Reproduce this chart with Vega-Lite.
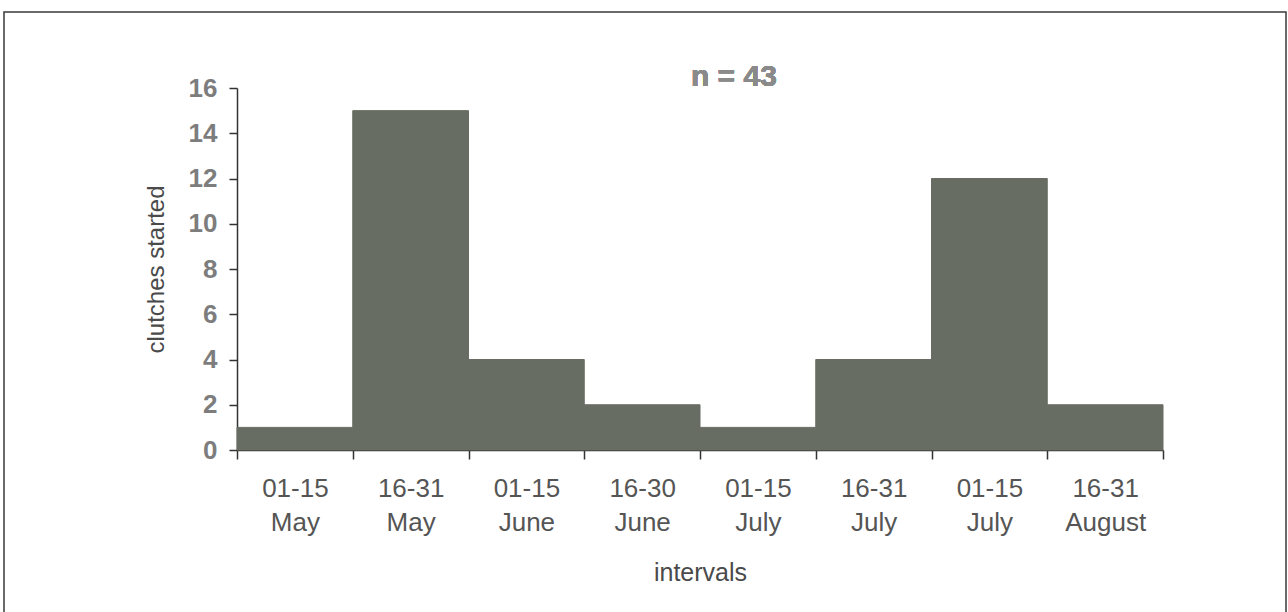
{
  "$schema": "https://vega.github.io/schema/vega-lite/v6.json",
  "width": 1282,
  "height": 603,
  "autosize": "none",
  "padding": {"left": 4, "top": 12, "right": 2, "bottom": 0},
  "background": "white",
  "config": {
    "view": {"stroke": "#3a3a3a", "strokeWidth": 1.5},
    "font": "Liberation Sans"
  },
  "data": {
    "values": [
      {"interval": "01-15 May", "clutches": 1},
      {"interval": "16-31 May", "clutches": 15},
      {"interval": "01-15 June", "clutches": 4},
      {"interval": "16-30 June", "clutches": 2},
      {"interval": "01-15 July", "clutches": 1},
      {"interval": "16-31 July", "clutches": 4},
      {"interval": "01-15 July ", "clutches": 12},
      {"interval": "16-31 August", "clutches": 2}
    ]
  },
  "layer": [
    {
      "mark": {"type": "bar", "color": "#686d64", "stroke": "#686d64", "strokeWidth": 1},
      "encoding": {
        "x": {
          "field": "interval",
          "type": "nominal",
          "sort": null,
          "scale": {"range": [233, 1159], "paddingInner": 0, "paddingOuter": 0},
          "axis": {
            "title": "intervals",
            "offset": -165,
            "labelExpr": "split(trim(datum.label), ' ')",
            "labelAngle": 0,
            "labelFontSize": 26,
            "labelColor": "#555555",
            "labelLineHeight": 34,
            "labelPadding": 16,
            "labelBaseline": "top",
            "tickBand": "extent",
            "tickSize": 9,
            "tickColor": "#333333",
            "domainColor": "#333333",
            "domainWidth": 1.5,
            "tickWidth": 1.5,
            "titleFontSize": 25,
            "titleFontWeight": "normal",
            "titleColor": "#4a4a4a",
            "titlePadding": 25,
            "grid": false
          }
        },
        "y": {
          "field": "clutches",
          "type": "quantitative",
          "scale": {"domain": [0, 16], "range": [438, 76], "nice": false},
          "axis": {
            "title": "clutches started",
            "offset": -233,
            "values": [0, 2, 4, 6, 8, 10, 12, 14, 16],
            "labelFontSize": 26,
            "labelFontWeight": "bold",
            "labelColor": "#7d7d7d",
            "labelPadding": 12,
            "tickSize": 8,
            "tickColor": "#333333",
            "domainColor": "#333333",
            "domainWidth": 1.5,
            "tickWidth": 1.5,
            "titleFontSize": 24,
            "titleFontWeight": "normal",
            "titleColor": "#4a4a4a",
            "titlePadding": 20,
            "grid": false
          }
        }
      }
    },
    {
      "mark": {"type": "text", "fontSize": 30, "fontWeight": "bold", "color": "#8a8a8a", "dx": -24, "baseline": "middle"},
      "encoding": {
        "x": {"datum": "01-15 July"},
        "y": {"datum": 16.5},
        "text": {"value": "n = 43"}
      }
    }
  ]
}
